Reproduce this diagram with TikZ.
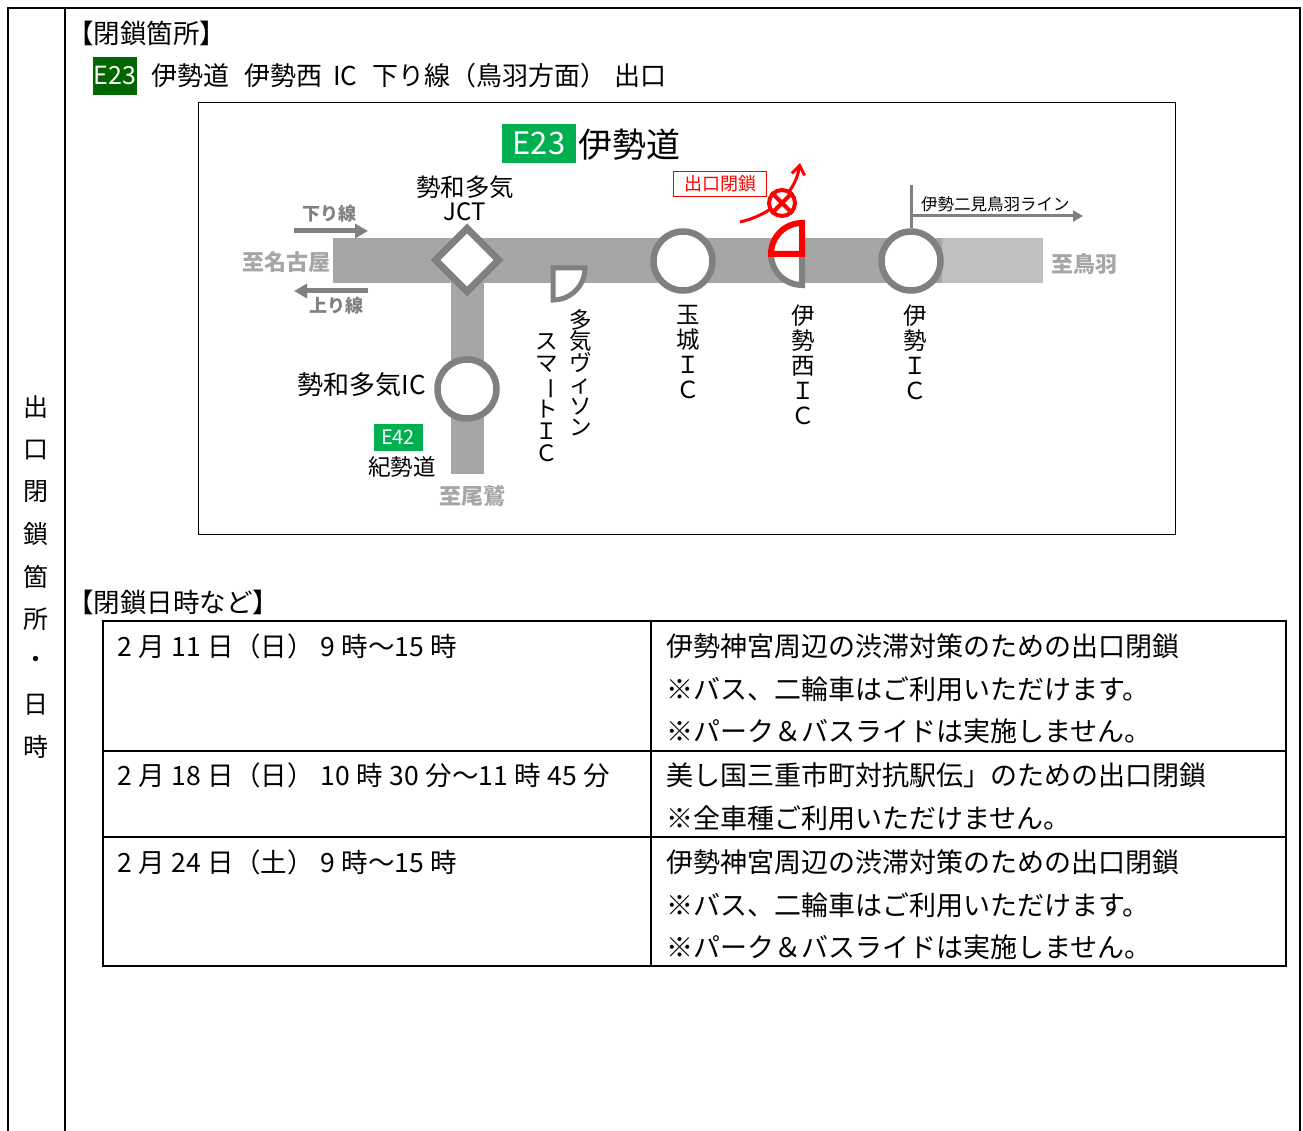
\documentclass[tikz,border=0pt]{standalone}
\usepackage{fontspec}
\usepackage{graphicx}
\setmainfont{Noto Sans CJK JP}
\usetikzlibrary{arrows.meta,shapes.geometric}
\definecolor{roadgray}{HTML}{A6A6A6}
\definecolor{roadlight}{HTML}{BFBFBF}
\definecolor{ringgray}{HTML}{808080}
\definecolor{darkgreen}{HTML}{006600}
\definecolor{signgreen}{HTML}{00B050}
\definecolor{closered}{HTML}{FF0000}
\newcommand{\fs}[1]{\fontsize{#1}{#1}\selectfont}
\newcommand{\hs}{\hspace{0.25em}}
\tikzset{
  txt/.style={inner sep=0pt, outer sep=0pt},
  vlabel/.style={inner sep=0pt, align=center, anchor=north, font=\fontsize{23.5}{25}\selectfont},
  icring/.style={circle, draw=ringgray, line width=6.5pt, fill=white, minimum size=59pt, inner sep=0pt},
  destlbl/.style={inner sep=0pt, text=roadgray, font=\fs{22}\bfseries},
  dirlbl/.style={inner sep=0pt, text=ringgray, font=\fs{18}\bfseries},
  dirarrow/.style={draw=ringgray, line width=5pt, -{Triangle[length=13pt,width=14pt]}},
  tline/.style={line width=2pt},
  celltxt/.style={inner sep=0pt, anchor=west, font=\fs{27}},
  datetxt/.style={inner sep=0pt, anchor=west, font=\fs{26.5}},
}
\begin{document}
\begin{tikzpicture}[x=1pt,y=-1pt]
\useasboundingbox (0,0) rectangle (1303,1131);
\fill[white] (0,0) rectangle (1303,1131);

% outer frame
\draw[tline] (8,1131) -- (8,8) -- (1300,8) -- (1300,1131);
\draw[tline] (65,8) -- (65,1131);

% left column vertical heading
\foreach \c [count=\i from 0] in {出,口,閉,鎖,箇,所,・,日,時}
  \node[txt, font=\fs{25}] (side\i) at (36,{407+42.5*\i}) {\c};

% heading 1
\node[txt, anchor=west, font=\fs{26.5}] (h1) at (67,33) {【閉鎖箇所】};
\node[fill=darkgreen, text=white, minimum width=44pt, minimum height=38pt, inner sep=0pt, font=\fs{25}] (e23a) at (115,76) {E23};
\node[txt, anchor=west, font=\fs{26}] (title) at (151,76) {伊勢道\hspace{0.6em}伊勢西\hspace{0.4em}IC\hspace{0.6em}下り線（鳥羽方面）\hspace{0.3em}出口};

% map frame
\draw[line width=1pt] (198,103) rectangle (1175,534);

% map title
\node[fill=signgreen, text=white, minimum width=74pt, minimum height=39pt, inner sep=0pt, font=\fs{31}] (e23b) at (539,143.5) {E23};
\node[txt, anchor=west, font=\fs{34}] (isedo) at (578,145) {伊勢道};

% roads
\fill[roadgray] (333,238) rectangle (942,283);
\fill[roadlight] (942,238) rectangle (1043,283);
\fill[roadgray] (451,262) rectangle (484,474);

% JCT
\node[diamond, draw=ringgray, line width=7pt, fill=white, minimum width=66pt, minimum height=66pt, inner sep=0pt] (jct) at (467,260) {};
\node[txt, font=\fs{24.5}] (jctname) at (465,187) {勢和多気};
\node[txt, font=\fs{24}] (jctlbl) at (465,212) {JCT};

% direction arrows
\coordinate (dnA) at (294,231);
\coordinate (dnB) at (368,231);
\coordinate (upA) at (368,291);
\coordinate (upB) at (294,291);
\draw[dirarrow] (dnA) -- (dnB);
\draw[dirarrow] (upA) -- (upB);
\node[dirlbl] (dnlbl) at (329,214) {下り線};
\node[dirlbl] (uplbl) at (336,306) {上り線};

% destinations
\node[destlbl, anchor=east] (nagoya) at (331,262) {至名古屋};
\node[destlbl] (owase) at (472,496) {至尾鷲};
\node[destlbl, anchor=west] (toba) at (1051,264) {至鳥羽};

% Seiwa-Taki IC
\node[icring] (seiwaic) at (467,389) {};
\node[txt, anchor=east, font=\fs{26}] (seiwalbl) at (426,385) {勢和多気IC};
\node[fill=signgreen, text=white, minimum width=49pt, minimum height=27pt, inner sep=0pt, font=\fs{20}] (e42) at (398,437) {E42};
\node[txt, font=\fs{22.5}] (kisei) at (402,467) {紀勢道};

% Taki Vison smart IC (quarter)
\draw[ringgray, line width=5pt, fill=white, line join=miter]
  (553,268) -- (585,268) .. controls (585,285.7) and (570.7,300) .. (553,300) -- cycle;
\node[vlabel, font=\fontsize{22.5}{21.5}\selectfont] (vison1) at (581,309) {多\\気\\ヴ\\ィ\\ソ\\ン};
\node[vlabel, font=\fontsize{22.5}{22}\selectfont] (vison2) at (547,333) {ス\\マ\\\rotatebox[origin=c]{-90}{ー}\\ト\\Ｉ\\Ｃ};

% Tamaki IC
\node[icring] (tamaki) at (683,261) {};
\node[vlabel] (tamakilbl) at (688,305) {玉\\城\\Ｉ\\Ｃ};

% Ise-nishi IC (closed)
\draw[ringgray, line width=6pt, fill=white, line join=miter]
  (802,254) -- (802,285) .. controls (784.9,285) and (771,271.1) .. (771,254) -- cycle;
\draw[closered, line width=6pt, fill=white, line join=miter]
  (802,254) -- (771,254) .. controls (771,236.9) and (784.9,223) .. (802,223) -- cycle;
\node[vlabel] (isenishilbl) at (803,305) {伊\\勢\\西\\Ｉ\\Ｃ};

% closed exit arrow
\coordinate (exitA) at (740,222);
\coordinate (exitB) at (800,163);
\draw[closered, line width=3pt, -{Straight Barb[length=9pt,width=13pt]}]
  (exitA) .. controls (770,215) and (795,195) .. (exitB);
\node[circle, draw=closered, line width=4pt, fill=white, minimum size=26pt, inner sep=0pt] (xmark) at (782,203) {};
\draw[closered, line width=4pt] (xmark.north east) -- (xmark.south west);
\draw[closered, line width=4pt] (xmark.north west) -- (xmark.south east);
\node[draw=closered, line width=1.5pt, fill=white, text=closered, font=\fs{18}, minimum width=93pt, minimum height=25pt, inner sep=0pt] (closelbl) at (720,184) {出口閉鎖};

% Ise IC
\node[icring] (ise) at (911,261) {};
\coordinate (lineTop) at (911,185);
\coordinate (lineA) at (911,216);
\coordinate (lineB) at (1083,216);
\draw[ringgray, line width=3pt] (ise.north) -- (lineTop);
\draw[ringgray, line width=3pt, -{Triangle[length=10pt,width=11pt]}] (lineA) -- (lineB);
\node[txt, anchor=south west, font=\fs{16.5}] (futamilbl) at (921,212) {伊勢二見鳥羽ライン};
\node[vlabel] (iselbl) at (915,305) {伊\\勢\\Ｉ\\Ｃ};

% heading 2
\node[txt, anchor=west, font=\fs{26.5}] (h2) at (67,602) {【閉鎖日時など】};

% table
\draw[tline] (103,621) rectangle (1286,966);
\draw[tline] (651,621) -- (651,966);
\draw[tline] (103,751) -- (1286,751);
\draw[tline] (103,837) -- (1286,837);

\node[datetxt] (d1) at (117,646) {2\hs 月\hs 11\hs 日（日）\hs 9\hs 時～15\hs 時};
\node[celltxt] (r1a) at (666,646) {伊勢神宮周辺の渋滞対策のための出口閉鎖};
\node[celltxt] (r1b) at (666,689) {※バス、二輪車はご利用いただけます。};
\node[celltxt] (r1c) at (666,731) {※パーク＆バスライドは実施しません。};

\node[datetxt] (d2) at (117,775) {2\hs 月\hs 18\hs 日（日）\hs 10\hs 時\hs 30\hs 分～11\hs 時\hs 45\hs 分};
\node[celltxt] (r2a) at (666,775) {美し国三重市町対抗駅伝」のための出口閉鎖};
\node[celltxt] (r2b) at (666,818) {※全車種ご利用いただけません。};

\node[datetxt] (d3) at (117,862) {2\hs 月\hs 24\hs 日（土）\hs 9\hs 時～15\hs 時};
\node[celltxt] (r3a) at (666,862) {伊勢神宮周辺の渋滞対策のための出口閉鎖};
\node[celltxt] (r3b) at (666,905) {※バス、二輪車はご利用いただけます。};
\node[celltxt] (r3c) at (666,947) {※パーク＆バスライドは実施しません。};
\end{tikzpicture}
\end{document}
